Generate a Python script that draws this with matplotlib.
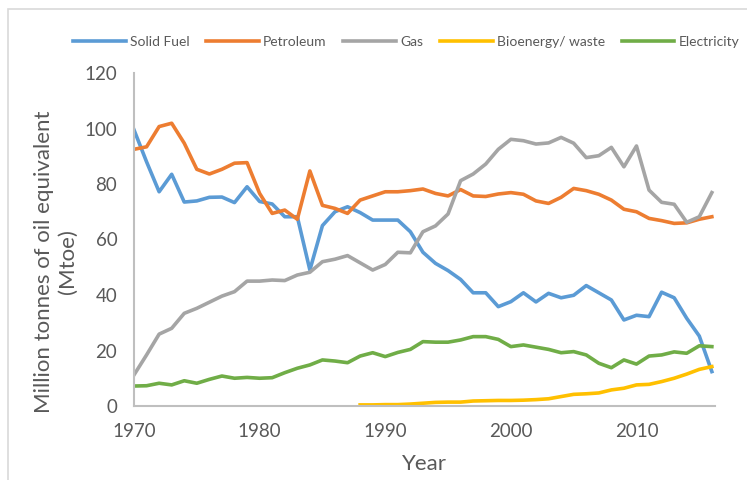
import numpy as np
import matplotlib.pyplot as plt
from matplotlib.patches import Rectangle

plt.rcParams['font.family'] = ['Lato', 'DejaVu Sans']

years = list(range(1970, 2017))
bio_years = list(range(1988, 2017))

solid_fuel = [99.5, 88, 77.2, 83.5, 73.5, 73.9, 75.2, 75.3, 73.3, 79,
              73.7, 72.8, 68.2, 68.2, 49, 65, 70, 71.8, 69.7, 67,
              67, 67, 62.8, 55.4, 51.4, 48.8, 45.6, 40.8, 40.8, 35.8,
              37.6, 40.8, 37.5, 40.6, 39, 39.9, 43.4, 40.8, 38.2, 31,
              32.7, 32.2, 41, 39, 31.6, 25.2, 12.4]
petroleum = [92.5, 93.4, 100.7, 101.9, 94.7, 85.3, 83.6, 85.3, 87.5, 87.7,
             76.6, 69.4, 70.6, 67.3, 84.7, 72.3, 71.2, 69.4, 74.2, 75.7,
             77.2, 77.2, 77.6, 78.2, 76.6, 75.7, 78, 75.7, 75.5, 76.4,
             76.9, 76.3, 73.9, 73, 75.2, 78.4, 77.6, 76.3, 74.2, 70.9,
             70, 67.6, 66.8, 65.8, 66, 67.3, 68.2]
gas = [11.2, 18.4, 25.9, 28, 33.4, 35.2, 37.4, 39.6, 41.2, 45,
       45, 45.4, 45.2, 47.2, 48.2, 52, 52.9, 54.2, 51.6, 49,
       51, 55.4, 55.2, 62.8, 64.9, 69.2, 81.2, 83.6, 87.2, 92.5,
       96.1, 95.6, 94.4, 94.8, 96.8, 94.7, 89.5, 90.2, 93.2, 86.2,
       93.7, 77.8, 73.4, 72.7, 66.2, 68.2, 76.9]
bioenergy = [0.4, 0.4, 0.5, 0.5, 0.7, 1.0, 1.3, 1.4, 1.4, 1.8,
             1.9, 2.0, 2.0, 2.1, 2.3, 2.6, 3.4, 4.2, 4.4, 4.7,
             5.8, 6.4, 7.6, 7.8, 8.8, 10, 11.5, 13.2, 14.2]
electricity = [7.2, 7.3, 8.2, 7.6, 9.1, 8.2, 9.6, 10.8, 10, 10.3,
               10, 10.2, 12, 13.6, 14.8, 16.6, 16.2, 15.6, 18, 19.2,
               17.8, 19.3, 20.4, 23.2, 23, 23, 23.8, 25, 25, 24,
               21.4, 22, 21.2, 20.4, 19.2, 19.6, 18.4, 15.4, 13.8, 16.6,
               15.1, 18, 18.4, 19.5, 19, 21.7, 21.4]

x_ticks = [1970, 1980, 1990, 2000, 2010]
y_ticks = [0, 20, 40, 60, 80, 100, 120]

text_grey = '#595959'
axis_grey = '#BFBFBF'
lw = 2.6

fig = plt.figure(figsize=(7.47, 4.8), dpi=100)
ax = fig.add_axes([134 / 747, 1 - 406 / 480, (715 - 134) / 747, (406 - 73) / 480])

# chart frame, running off the bottom and right edges
fig.patches.append(Rectangle((8 / 747, -0.1), 1.0, 1.1 - 9 / 480,
                             transform=fig.transFigure, fill=False,
                             edgecolor='#D9D9D9', linewidth=1.2))

ax.plot(years, solid_fuel, color='#5B9BD5', lw=lw, label='Solid Fuel')
ax.plot(years, petroleum, color='#ED7D31', lw=lw, label='Petroleum')
ax.plot(years, gas, color='#A5A5A5', lw=lw, label='Gas')
ax.plot(bio_years, bioenergy, color='#FFC000', lw=lw, label='Bioenergy/ waste')
ax.plot(years, electricity, color='#70AD47', lw=lw, label='Electricity')

ax.set_xlim(1970, 2016.25)
ax.set_ylim(0, 120)
ax.set_xticks(x_ticks)
ax.set_yticks(y_ticks)

for side in ['top', 'right']:
    ax.spines[side].set_visible(False)
for side in ['left', 'bottom']:
    ax.spines[side].set_color(axis_grey)
    ax.spines[side].set_linewidth(1.5)
ax.tick_params(length=0, labelsize=13.5, colors=text_grey, pad=12)

ax.set_xlabel('Year', fontsize=16, color=text_grey, labelpad=10)
fig.text(56 / 747, 1 - 262 / 480, 'Million tonnes of oil equivalent\n(Mtoe)',
         rotation=90, ha='center', va='center', fontsize=16,
         color=text_grey, linespacing=1.25)

fig.legend(loc='center', bbox_to_anchor=(406 / 747, 1 - 42 / 480), ncol=5,
           frameon=False, fontsize=10, handlelength=3.8, columnspacing=1.2,
           handletextpad=0.3, labelcolor=text_grey)

fig.savefig('out.png', dpi=100)
